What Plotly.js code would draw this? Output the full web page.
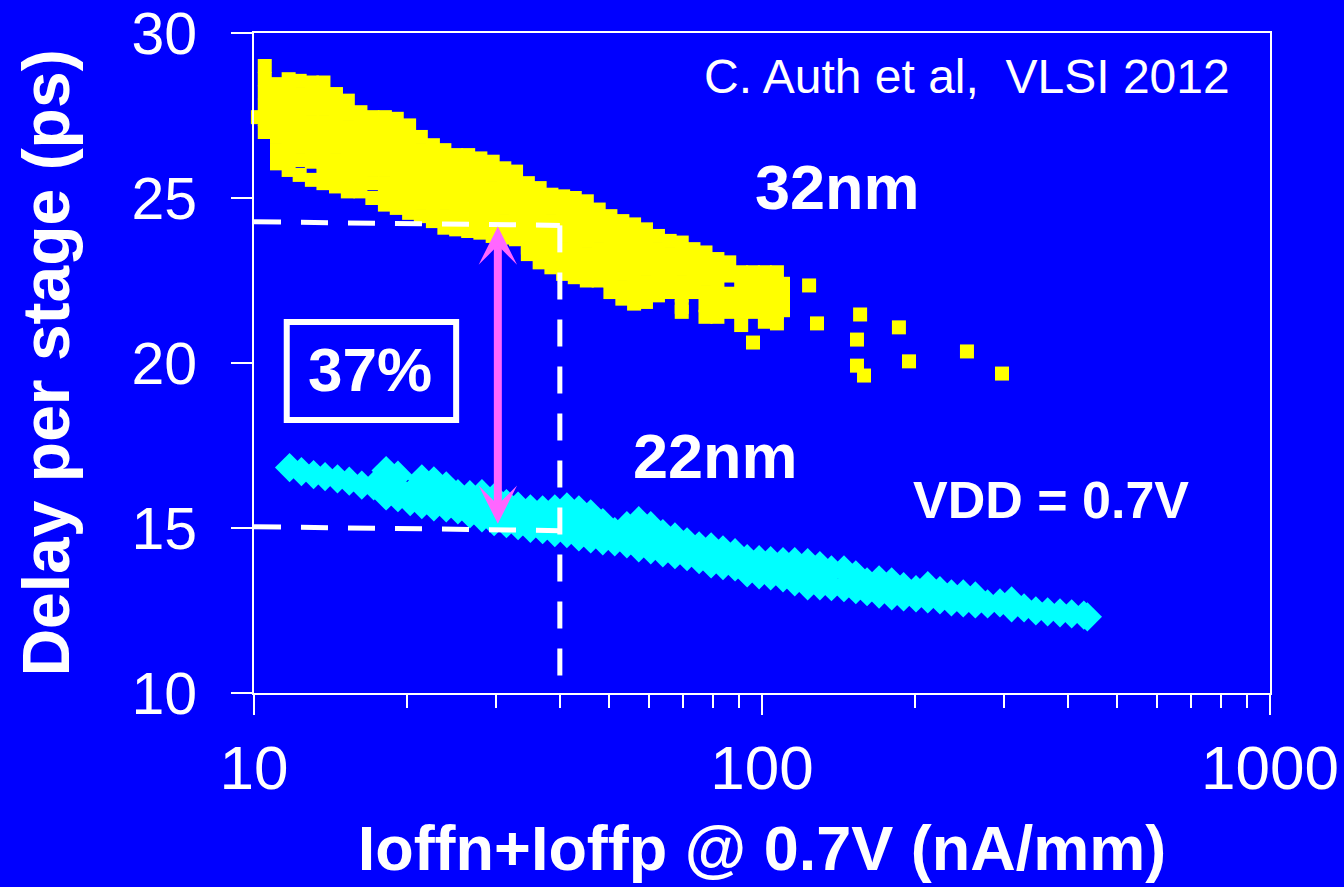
<!DOCTYPE html>
<html>
<head>
<meta charset="utf-8">
<script src="https://cdn.plot.ly/plotly-3.0.1.min.js"></script>
<style>
  html, body { margin: 0; padding: 0; background: #0000FF; }
  #chart { width: 1344px; height: 887px; }
</style>
</head>
<body>
<div id="chart"></div>
<script>
// ---- 32nm (yellow squares): leakage columns and delay values read at each column
const leak32 = [10.18, 10.5, 11.1, 11.7, 12.3, 13.0, 13.7, 14.5, 15.3, 16.2, 17.1, 18.1, 19.1, 20.2, 21.3, 22.5, 23.7, 25.0, 26.4, 27.9, 29.5, 31.1, 32.8, 34.6, 36.5, 38.5, 40.6, 42.8, 45.2, 47.7, 50.3, 53.1, 56.0, 59.1, 62.4, 65.8, 69.5, 73.3, 77.4, 81.7, 86.2, 91.0, 96.0, 101.3, 107, 110, 123.8, 128.3, 153.8, 156, 158.8, 186, 194.7, 253.2, 296.8];
const delay32 = [
  [27.45],
  [29.0, 28.6, 28.2, 27.8, 27.4, 27.0],
  [28.45, 28.05, 27.65, 27.25, 26.85, 26.45, 26.05],
  [28.6, 28.2, 27.8, 27.4, 27.0, 26.6, 26.2, 25.85],
  [28.55, 28.15, 27.75, 27.35, 26.95, 26.55, 26.15, 25.7],
  [28.5, 28.1, 27.7, 27.3, 26.9, 26.5, 26.1, 25.55],
  [28.5, 28.1, 27.7, 27.3, 26.9, 26.5, 26.1, 25.7, 25.45],
  [28.15, 27.75, 27.35, 26.95, 26.55, 26.15, 25.75, 25.35],
  [27.95, 27.55, 27.15, 26.75, 26.35, 25.95, 25.55, 25.2],
  [27.6, 27.2, 26.8, 26.4, 26.0, 25.6, 25.2],
  [27.45, 27.05, 26.65, 26.25, 25.85, 25.45, 25.0],
  [27.45, 27.05, 26.65, 26.25, 25.85, 25.45, 25.05, 24.8],
  [27.4, 27.0, 26.6, 26.2, 25.8, 25.4, 25.0, 24.7],
  [27.2, 26.8, 26.4, 26.0, 25.6, 25.2, 24.85, 24.55],
  [26.85, 26.45, 26.05, 25.65, 25.25, 24.85, 24.45],
  [26.6, 26.2, 25.8, 25.4, 25.0, 24.6, 24.3],
  [26.45, 26.05, 25.65, 25.25, 24.85, 24.45, 24.1],
  [26.3, 25.9, 25.5, 25.1, 24.7, 24.35, 24.05],
  [26.3, 25.9, 25.5, 25.1, 24.7, 24.35, 24.0],
  [26.2, 25.8, 25.4, 25.0, 24.6, 24.25, 23.95],
  [26.1, 25.7, 25.3, 24.9, 24.5, 24.15, 23.85],
  [25.9, 25.5, 25.1, 24.7, 24.3, 24.0, 23.8],
  [25.8, 25.4, 25.0, 24.6, 24.2, 23.9, 23.75],
  [25.45, 25.05, 24.65, 24.25, 23.85, 23.5, 23.3],
  [25.3, 24.9, 24.5, 24.1, 23.7, 23.35, 23.05],
  [25.1, 24.7, 24.3, 23.9, 23.5, 23.15, 22.9],
  [25.05, 24.65, 24.25, 23.85, 23.45, 23.05, 22.7],
  [25.0, 24.6, 24.2, 23.8, 23.4, 23.0, 22.6],
  [24.9, 24.5, 24.1, 23.7, 23.3, 22.9, 22.5],
  [24.65, 24.25, 23.85, 23.45, 23.05, 22.7, 22.5],
  [24.45, 24.05, 23.65, 23.25, 22.85, 22.5, 22.15],
  [24.3, 23.9, 23.5, 23.1, 22.7, 22.3, 21.95],
  [24.2, 23.8, 23.4, 23.0, 22.6, 22.2, 21.8],
  [24.05, 23.65, 23.25, 22.85, 22.45, 22.1, 21.85],
  [23.85, 23.45, 23.05, 22.65, 22.3, 22.05],
  [23.7, 23.3, 22.9, 22.5, 22.15],
  [23.65, 23.25, 22.85, 22.45, 22.05, 21.7, 21.55],
  [23.45, 23.05, 22.65, 22.3, 22.15],
  [23.35, 22.95, 22.55, 22.15, 21.75, 21.4],
  [23.15, 22.75, 22.35, 21.95, 21.6, 21.4],
  [23.05, 22.65, 22.1, 21.7, 21.55],
  [22.75, 22.35, 21.95, 21.55, 21.15],
  [22.75, 22.35, 21.95, 21.55, 20.62],
  [22.75, 22.35, 21.95, 21.55, 21.25],
  [22.75, 22.35, 21.95, 21.55, 21.2],
  [22.4, 22.0, 21.6],
  [22.35],
  [21.2],
  [20.71, 19.92],
  [21.47],
  [19.62],
  [21.08],
  [20.05],
  [20.35],
  [19.68]
];

// ---- 22nm (cyan diamonds)
const leak22 = [11.75, 12.4, 13.1, 13.8, 14.6, 15.4, 16.3, 17.2, 18.2, 19.2, 20.3, 21.4, 22.6, 23.9, 25.2, 26.6, 28.1, 29.7, 31.4, 33.1, 35.0, 37.0, 39.1, 41.3, 43.6, 46.0, 48.6, 51.3, 54.2, 57.2, 60.4, 63.8, 67.4, 71.2, 75.2, 79.4, 83.8, 88.5, 93.5, 98.7, 104, 110, 116, 123, 130, 137, 145, 153, 161, 170, 180, 190, 201, 212, 224, 236, 249, 263, 278, 294, 310, 328, 346, 365, 386, 407, 430, 437];
const delay22 = [
  [16.83], [16.71], [16.62], [16.56], [16.49], [16.42], [16.30], [16.28],
  [16.74, 16.34, 15.97],
  [16.6, 16.22, 15.92],
  [16.04, 15.80],
  [16.49, 16.10, 15.71],
  [16.43, 16.04, 15.64],
  [16.28, 15.95, 15.61],
  [16.04, 15.55],
  [16.01, 15.71, 15.43],
  [16.04, 15.68, 15.31],
  [15.92, 15.55, 15.19],
  [15.74, 15.43, 15.13],
  [15.66, 15.37, 15.07],
  [15.58, 15.31, 14.99],
  [15.55, 15.25, 14.95],
  [15.58, 15.22, 14.86],
  [15.64, 15.25, 14.83],
  [15.55, 15.16, 14.73],
  [15.43, 15.04, 14.67],
  [15.16, 14.89, 14.61],
  [14.89, 14.58],
  [15.07, 14.80, 14.52],
  [15.22, 14.83, 14.40],
  [15.07, 14.70, 14.34],
  [14.83, 14.52, 14.25],
  [14.73, 14.46, 14.19],
  [14.58, 14.13],
  [14.46, 14.04],
  [14.43, 14.16, 13.91],
  [14.34, 14.10, 13.86],
  [14.25, 13.82],
  [14.07, 13.64],
  [14.04, 13.58],
  [14.01, 13.55],
  [13.98, 13.49],
  [13.98, 13.67, 13.37],
  [13.95, 13.58, 13.25],
  [13.86, 13.55, 13.25],
  [13.73, 13.22],
  [13.73, 13.19],
  [13.58, 13.13],
  [13.37, 13.07],
  [13.43, 13.00],
  [13.37, 12.94],
  [13.22, 12.91],
  [13.13, 12.88],
  [13.25, 12.85],
  [13.10, 12.82],
  [13.00, 12.76],
  [13.00, 12.73],
  [12.94, 12.70],
  [12.70],
  [12.73],
  [12.79, 12.58],
  [12.58], [12.49], [12.46], [12.43], [12.40], [12.36], [12.31]
];

// ---- axis ticks
const yTicks = [10, 15, 20, 25, 30];
const xMajorTicks = [10, 100, 1000];
const xMajorLabels = ['10', '100', '1000'];
const xMinorTicks = [20, 30, 40, 50, 60, 70, 80, 90, 200, 300, 400, 500, 600, 700, 800, 900];

// ---- reference guides
const guideLeak = [10, 40];          // leakage range of the guide lines
const guide32 = [24.28, 24.17];      // 32nm delay guide
const guide22 = [15.04, 14.92];      // 22nm delay guide
const arrowLeak = 30.2;
const arrowDelay = [24.14, 15.08];
const boxLeak = [11.6, 25.0];
const boxDelay = [18.27, 21.24];
const gainLabel = '37%';

function flatten(cols, rows) {
  const xs = [], ys = [];
  cols.forEach((c, i) => rows[i].forEach(v => { xs.push(c); ys.push(v); }));
  return {xs, ys};
}
const p32 = flatten(leak32, delay32);
const p22 = flatten(leak22, delay22);

const FONT = 'Arial, "Liberation Sans", sans-serif';
const WHITE = '#FFFFFF';

const traces = [
  {
    x: p32.xs, y: p32.ys, type: 'scatter', mode: 'markers', name: '32nm',
    marker: {symbol: 'square', size: 14, color: '#FFFF00', line: {width: 0}},
    cliponaxis: false, hoverinfo: 'x+y'
  },
  {
    x: p22.xs, y: p22.ys, type: 'scatter', mode: 'markers', name: '22nm',
    marker: {symbol: 'diamond', size: 22.5, color: '#00FFFF', line: {width: 0}},
    cliponaxis: false, hoverinfo: 'x+y'
  }
];

const dash = '27px,20px';
const layout = {
  width: 1344, height: 887,
  paper_bgcolor: '#0000FF', plot_bgcolor: '#0000FF',
  margin: {l: 254, r: 74, t: 33, b: 194},
  showlegend: false,
  font: {family: FONT, color: WHITE},
  xaxis: {
    type: 'log', range: [1, 3], autorange: false,
    tickmode: 'array', tickvals: xMajorTicks, ticktext: xMajorLabels,
    ticks: 'outside', ticklen: 20, tickwidth: 2, tickcolor: WHITE,
    minor: {tickmode: 'array', tickvals: xMinorTicks, ticks: 'outside', ticklen: 13, tickwidth: 2, tickcolor: WHITE, showgrid: false},
    showline: true, linecolor: WHITE, linewidth: 2, mirror: true,
    showgrid: false, zeroline: false,
    tickfont: {family: FONT, size: 62, color: WHITE},
    ticklabelstandoff: 0,
    automargin: false,
    title: {text: 'Ioffn+Ioffp @ 0.7V (nA/mm)', font: {family: FONT, size: 63, color: WHITE, weight: 'bold'}, standoff: 24}
  },
  yaxis: {
    range: [10, 30], autorange: false,
    tickmode: 'array', tickvals: yTicks,
    ticks: 'outside', ticklen: 21, tickwidth: 2, tickcolor: WHITE,
    showline: true, linecolor: WHITE, linewidth: 2, mirror: true,
    showgrid: false, zeroline: false,
    tickfont: {family: FONT, size: 59, color: WHITE},
    ticklabelstandoff: 22,
    automargin: false,
    title: {text: '\u00a0\u00a0Delay per stage (ps)', font: {family: FONT, size: 66, color: WHITE, weight: 'bold'}, standoff: 40}
  },
  shapes: [
    {type: 'line', xref: 'x', yref: 'y', x0: guideLeak[0], y0: guide32[0], x1: guideLeak[1], y1: guide32[1],
     line: {color: WHITE, width: 5, dash: dash}, layer: 'above'},
    {type: 'line', xref: 'x', yref: 'y', x0: guideLeak[1], y0: guide32[1], x1: guideLeak[1], y1: 10,
     line: {color: WHITE, width: 5, dash: dash}, layer: 'above'},
    {type: 'line', xref: 'x', yref: 'y', x0: guideLeak[0], y0: guide22[0], x1: guideLeak[1], y1: guide22[1],
     line: {color: WHITE, width: 5, dash: dash}, layer: 'above'},
    {type: 'rect', xref: 'x', yref: 'y', x0: boxLeak[0], x1: boxLeak[1], y0: boxDelay[0], y1: boxDelay[1],
     line: {color: WHITE, width: 6}, fillcolor: 'rgba(0,0,0,0)', layer: 'above'}
  ],
  annotations: [
    {xref: 'x', yref: 'y', x: Math.log10(arrowLeak), y: arrowDelay[0],
     axref: 'x', ayref: 'y', ax: Math.log10(arrowLeak), ay: arrowDelay[1],
     text: '', showarrow: true, arrowside: 'end+start',
     arrowhead: 3, startarrowhead: 3, arrowsize: 0.8, startarrowsize: 0.8,
     arrowwidth: 8, arrowcolor: '#FF66FF', standoff: 0, startstandoff: 0},
    {xref: 'x', yref: 'y', x: Math.log10(16.9), y: 19.79, text: gainLabel, showarrow: false,
     font: {family: FONT, size: 62, color: WHITE, weight: 'bold'}, xanchor: 'center', yanchor: 'middle'},
    {xref: 'paper', yref: 'paper', x: 0.7018, y: 0.9345, text: 'C. Auth et al,\u00a0 VLSI 2012', showarrow: false,
     font: {family: FONT, size: 48, color: WHITE}, xanchor: 'center', yanchor: 'middle'},
    {xref: 'paper', yref: 'paper', x: 0.5748, y: 0.7665, text: '32nm', showarrow: false,
     font: {family: FONT, size: 63, color: WHITE, weight: 'bold'}, xanchor: 'center', yanchor: 'middle'},
    {xref: 'paper', yref: 'paper', x: 0.4547, y: 0.3585, text: '22nm', showarrow: false,
     font: {family: FONT, size: 63, color: WHITE, weight: 'bold'}, xanchor: 'center', yanchor: 'middle'},
    {xref: 'paper', yref: 'paper', x: 0.7844, y: 0.2924, text: 'VDD = 0.7V', showarrow: false,
     font: {family: FONT, size: 52, color: WHITE, weight: 'bold'}, xanchor: 'center', yanchor: 'middle'}
  ]
};

Plotly.newPlot('chart', traces, layout, {displayModeBar: false, responsive: false});
</script>
</body>
</html>
